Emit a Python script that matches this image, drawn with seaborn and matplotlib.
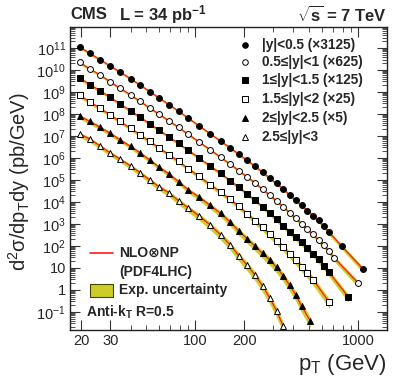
import numpy as np
import pandas as pd
import seaborn as sns
import matplotlib
matplotlib.use("Agg")
import matplotlib.pyplot as plt
from matplotlib.patches import Rectangle
from matplotlib.ticker import FixedLocator, FixedFormatter, NullFormatter

# ---------------- data ----------------
labels = ["|y|<0.5 (\u00d73125)", "0.5\u2264|y|<1 (\u00d7625)", "1\u2264|y|<1.5 (\u00d7125)",
          "1.5\u2264|y|<2 (\u00d725)", "2\u2264|y|<2.5 (\u00d75)", "2.5\u2264|y|<3"]

pt_y1 = [19.5, 22.5, 26, 30, 34.5, 40, 46, 52.5, 60, 69, 79, 90.5, 105.5, 123.5, 143, 163.5, 185, 208,
         232.5, 258.5, 286, 315, 346, 378.5, 412.5, 449, 487.5, 527.5, 570, 615, 662, 790, 1070]
lg_y1 = [11.05, 10.76, 10.47, 10.19, 9.91, 9.61, 9.31, 9.02, 8.73, 8.42, 8.13, 7.81, 7.46, 7.10, 6.77,
         6.46, 6.17, 5.89, 5.63, 5.35, 5.09, 4.84, 4.59, 4.33, 4.09, 3.84, 3.61, 3.38, 3.16, 2.90, 2.62,
         2.00, 0.95]
unc_y1 = [0.15, 0.14, 0.13, 0.12, 0.12, 0.12, 0.12, 0.12, 0.12, 0.12, 0.12, 0.12, 0.12, 0.12, 0.12,
          0.13, 0.13, 0.13, 0.14, 0.14, 0.15, 0.15, 0.16, 0.16, 0.17, 0.18, 0.19, 0.20, 0.21, 0.22, 0.24,
          0.28, 0.35]

pt_y2 = [19.5, 22.5, 26, 30, 34.5, 40, 46, 52.5, 60, 69, 79, 90.5, 105.5, 123.5, 143, 163.5, 185, 208,
         232.5, 258.5, 286, 315, 346, 378.5, 412.5, 449, 487.5, 527.5, 570, 615, 662, 711.5, 1000]
lg_y2 = [10.35, 10.05, 9.78, 9.47, 9.17, 8.87, 8.57, 8.27, 7.99, 7.69, 7.39, 7.08, 6.73, 6.37, 6.04,
         5.72, 5.43, 5.14, 4.87, 4.58, 4.31, 4.05, 3.79, 3.52, 3.27, 3.01, 2.76, 2.53, 2.27, 2.02, 1.76,
         1.46, 0.30]
unc_y2 = [0.16, 0.15, 0.14, 0.13, 0.13, 0.13, 0.13, 0.13, 0.13, 0.13, 0.13, 0.13, 0.13, 0.14, 0.14,
          0.14, 0.15, 0.15, 0.15, 0.16, 0.17, 0.18, 0.19, 0.20, 0.21, 0.22, 0.23, 0.24, 0.25, 0.27, 0.29,
          0.32, 0.40]

pt_y3 = [19.5, 22.5, 26, 30, 34.5, 40, 46, 52.5, 60, 69, 79, 90.5, 105.5, 123.5, 143, 163.5, 185, 208,
         232.5, 258.5, 286, 315, 346, 378.5, 412.5, 449, 487.5, 527.5, 570, 615, 662, 868]
lg_y3 = [9.64, 9.34, 9.06, 8.76, 8.46, 8.15, 7.85, 7.55, 7.27, 6.96, 6.66, 6.35, 6.00, 5.63, 5.30,
         4.97, 4.67, 4.37, 4.08, 3.78, 3.49, 3.21, 2.92, 2.65, 2.39, 2.16, 1.90, 1.65, 1.39, 1.10, 0.80,
         -0.32]
unc_y3 = [0.18, 0.17, 0.16, 0.15, 0.15, 0.15, 0.15, 0.15, 0.15, 0.15, 0.15, 0.15, 0.16, 0.16, 0.17,
          0.17, 0.18, 0.19, 0.20, 0.21, 0.22, 0.23, 0.25, 0.27, 0.29, 0.31, 0.33, 0.35, 0.37, 0.40, 0.43,
          0.50]

pt_y4 = [19.5, 22.5, 26, 30, 34.5, 40, 46, 52.5, 60, 69, 79, 90.5, 105.5, 123.5, 143, 163.5, 185, 208,
         232.5, 258.5, 286, 315, 346, 378.5, 412.5, 449, 487.5, 527.5, 665]
lg_y4 = [8.85, 8.55, 8.26, 7.96, 7.66, 7.35, 7.05, 6.75, 6.46, 6.15, 5.84, 5.52, 5.16, 4.79, 4.45,
         4.12, 3.80, 3.47, 3.15, 2.84, 2.53, 2.24, 1.95, 1.65, 1.36, 1.06, 0.77, 0.47, -0.57]
unc_y4 = [0.22, 0.21, 0.20, 0.19, 0.19, 0.19, 0.19, 0.19, 0.19, 0.20, 0.20, 0.21, 0.22, 0.23, 0.24,
          0.25, 0.27, 0.29, 0.31, 0.33, 0.35, 0.38, 0.41, 0.44, 0.47, 0.50, 0.53, 0.56, 0.62]

pt_y5 = [19.5, 22.5, 26, 30, 34.5, 40, 46, 52.5, 60, 69, 79, 90.5, 105.5, 123.5, 143, 163.5, 185, 208,
         232.5, 258.5, 286, 315, 346, 378.5, 412.5, 449, 507]
lg_y5 = [7.91, 7.66, 7.40, 7.12, 6.83, 6.53, 6.22, 5.91, 5.58, 5.27, 4.92, 4.55, 4.22, 3.84, 3.48,
         3.09, 2.68, 2.32, 1.99, 1.66, 1.36, 1.02, 0.64, 0.22, -0.22, -0.74, -1.41]
unc_y5 = [0.26, 0.25, 0.24, 0.23, 0.23, 0.23, 0.24, 0.24, 0.25, 0.26, 0.27, 0.29, 0.31, 0.33, 0.35,
          0.38, 0.41, 0.44, 0.47, 0.50, 0.53, 0.56, 0.59, 0.62, 0.65, 0.68, 0.72]

pt_y6 = [19.5, 22.5, 26, 30, 34.5, 40, 46, 52.5, 60, 69, 79, 90.5, 105.5, 123.5, 143, 163.5, 185, 208,
         232.5, 258.5, 286, 315, 346]
lg_y6 = [7.09, 6.86, 6.55, 6.23, 5.95, 5.64, 5.32, 5.00, 4.68, 4.41, 4.05, 3.73, 3.36, 2.95, 2.50,
         2.05, 1.55, 1.12, 0.68, 0.18, -0.36, -0.95, -1.64]
unc_y6 = [0.30, 0.29, 0.28, 0.28, 0.28, 0.29, 0.30, 0.31, 0.33, 0.35, 0.37, 0.40, 0.43, 0.46, 0.49,
          0.52, 0.55, 0.58, 0.61, 0.64, 0.67, 0.70, 0.74]

series_pt = [pt_y1, pt_y2, pt_y3, pt_y4, pt_y5, pt_y6]
series_lg = [lg_y1, lg_y2, lg_y3, lg_y4, lg_y5, lg_y6]
series_unc = [unc_y1, unc_y2, unc_y3, unc_y4, unc_y5, unc_y6]

x_ticks = [20, 30, 100, 200, 1000]
x_ticklabels = ["20", "30", "100", "200", "1000"]
y_ticks = [1e-1, 1, 10, 1e2, 1e3, 1e4, 1e5, 1e6, 1e7, 1e8, 1e9, 1e10, 1e11]
y_ticklabels = [r"$10^{-1}$", "1", "10", r"$10^{2}$", r"$10^{3}$", r"$10^{4}$", r"$10^{5}$",
                r"$10^{6}$", r"$10^{7}$", r"$10^{8}$", r"$10^{9}$", r"$10^{10}$", r"$10^{11}$"]

# ---------------- style ----------------
sns.set_theme(style="ticks")
plt.rcParams["font.family"] = ["Liberation Sans", "DejaVu Sans"]
plt.rcParams["mathtext.fontset"] = "custom"
plt.rcParams["mathtext.rm"] = "Liberation Sans"
plt.rcParams["mathtext.it"] = "Liberation Sans:italic"
plt.rcParams["mathtext.bf"] = "Liberation Sans:bold"
plt.rcParams["mathtext.sf"] = "Liberation Sans"

markers = ["o", "o", "s", "s", "^", "^"]
filled = [True, False, True, False, True, False]
band_color = "#cdcd2a"
line_color = "#ff1a1a"

fig = plt.figure(figsize=(3.99, 3.86), dpi=100)
ax = fig.add_axes([0.1754, 0.145, 0.7945, 0.785])

for i in range(6):
    df = pd.DataFrame({"pt": series_pt[i], "xs": np.power(10.0, series_lg[i]),
                       "unc": series_unc[i]})
    lo = df["xs"] / (1 + 1.4 * df["unc"])
    hi = df["xs"] * (1 + 0.7 * df["unc"])
    ax.fill_between(df["pt"], lo, hi, color=band_color, lw=0, zorder=1)
    sns.lineplot(data=df, x="pt", y="xs", color=line_color, lw=0.9, ax=ax,
                 estimator=None, sort=True, zorder=2)
    sns.scatterplot(data=df, x="pt", y="xs", marker=markers[i], s=18, ax=ax,
                    color="black", facecolors="black" if filled[i] else "white",
                    edgecolor="black", linewidth=0.7, zorder=3)

ax.set_xscale("log")
ax.set_yscale("log")
ax.set_xlim(17, 1500)
ax.set_ylim(0.015, 9e11)

ax.xaxis.set_major_locator(FixedLocator(x_ticks))
ax.xaxis.set_major_formatter(FixedFormatter(x_ticklabels))
ax.xaxis.set_minor_locator(FixedLocator([40, 50, 60, 70, 80, 90, 300, 400, 500, 600, 700, 800, 900]))
ax.xaxis.set_minor_formatter(NullFormatter())
ax.yaxis.set_major_locator(FixedLocator(y_ticks))
ax.yaxis.set_major_formatter(FixedFormatter(y_ticklabels))
yminor = [m * 10.0 ** k for k in range(-2, 12) for m in range(2, 10)]
ax.yaxis.set_minor_locator(FixedLocator(yminor))
ax.yaxis.set_minor_formatter(NullFormatter())

ax.tick_params(which="both", direction="in", top=True, right=True, color="#333333")
ax.tick_params(which="major", length=7, width=0.8, labelsize=10.5, pad=3)
ax.tick_params(which="minor", length=3.5, width=0.6)
for sp in ax.spines.values():
    sp.set_linewidth(1.0)
    sp.set_color("#222222")

ax.set_xlabel("")
ax.set_ylabel("")
fig.text(0.048, 0.53, r"d$^{2}$σ/dp$_{\rm T}$dy (pb/GeV)", rotation=90, fontsize=14.5,
         ha="center", va="center")
fig.text(0.97, 0.055, r"p$_{\rm T}$ (GeV)", fontsize=16, ha="right", va="center")

# header
fig.text(0.1754, 0.962, "CMS", fontsize=12, fontweight="bold", ha="left", va="center")
fig.text(0.298, 0.962, r"L = 34 pb$^{\mathbf{-1}}$", fontsize=12, fontweight="bold", ha="left",
         va="center")
fig.text(0.97, 0.962, r"$\mathbf{\sqrt{s}}$ = 7 TeV", fontsize=12, fontweight="bold", ha="right",
         va="center")

# rapidity legend
ys = [0.940, 0.883, 0.824, 0.762, 0.700, 0.637]
for i in range(6):
    ax.plot([0.552], [ys[i]], marker=markers[i], ms=4.0, mec="black",
            mfc="black" if filled[i] else "white", mew=0.7, transform=ax.transAxes,
            clip_on=False, ls="none")
    ax.text(0.605, ys[i], labels[i], transform=ax.transAxes, fontsize=9.8, fontweight="bold",
            ha="left", va="center")

# theory legend
ax.plot([0.063, 0.136], [0.254, 0.254], color=line_color, lw=1.2, transform=ax.transAxes)
ax.text(0.155, 0.254, "NLO\u2297NP", transform=ax.transAxes, fontsize=10, fontweight="bold",
        ha="left", va="center")
ax.text(0.155, 0.192, "(PDF4LHC)", transform=ax.transAxes, fontsize=10, fontweight="bold",
        ha="left", va="center")
ax.add_patch(Rectangle((0.063, 0.108), 0.073, 0.045, transform=ax.transAxes,
                       facecolor=band_color, edgecolor="#444400", lw=0.8))
ax.text(0.155, 0.131, "Exp. uncertainty", transform=ax.transAxes, fontsize=10,
        fontweight="bold", ha="left", va="center")
ax.text(0.05, 0.058, r"Anti-k$_{\mathbf{T}}$ R=0.5", transform=ax.transAxes, fontsize=10,
        fontweight="bold", ha="left", va="center")

fig.savefig("out.png", dpi=100)
